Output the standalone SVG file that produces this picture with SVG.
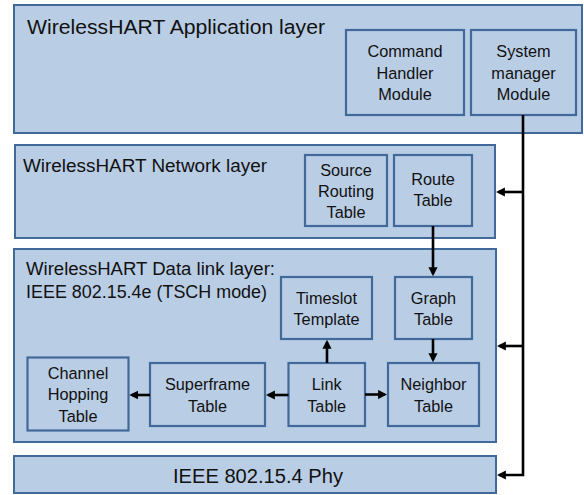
<svg xmlns="http://www.w3.org/2000/svg" width="584" height="495" viewBox="0 0 584 495">
  <style>
    .layer { fill: #b9cde5; stroke: #41699a; stroke-width: 2; }
    .box { fill: #b9cde5; stroke: #41699a; stroke-width: 2.2; }
    text { font-family: "Liberation Sans", Arial, sans-serif; fill: #111; }
    .title { font-size: 18.7px; }
    .lbl { font-size: 16.3px; text-anchor: middle; }
    .wire { fill: none; stroke: #000; stroke-width: 2.6; }
    .arr { marker-end: url(#head); }
  </style>
  <defs>
    <marker id="head" viewBox="0 0 10 10" refX="7" refY="5" markerWidth="3.5" markerHeight="3.5" orient="auto" markerUnits="strokeWidth">
      <path d="M0,0 L10,5 L0,10 z" fill="#000"/>
    </marker>
  </defs>

  <!-- Application layer -->
  <g id="app-layer">
    <rect class="layer" x="14" y="5" width="568" height="128"/>
    <text x="27" y="34" style="font-size:20.5px" textLength="298" lengthAdjust="spacingAndGlyphs">WirelessHART Application layer</text>
  </g>
  <g id="command-handler">
    <rect class="box" x="346" y="30" width="118" height="85"/>
    <text class="lbl" x="405" y="57">Command</text>
    <text class="lbl" x="405" y="78.5">Handler</text>
    <text class="lbl" x="405" y="100">Module</text>
  </g>
  <g id="system-manager">
    <rect class="box" x="471" y="30" width="105" height="85"/>
    <text class="lbl" x="523.5" y="57">System</text>
    <text class="lbl" x="523.5" y="78.5">manager</text>
    <text class="lbl" x="523.5" y="100">Module</text>
  </g>

  <!-- Network layer -->
  <g id="network-layer">
    <rect class="layer" x="15" y="145" width="480" height="93"/>
    <text class="title" x="23" y="172" textLength="244" lengthAdjust="spacingAndGlyphs">WirelessHART Network layer</text>
  </g>
  <g id="source-routing">
    <rect class="box" x="305" y="155" width="82" height="71"/>
    <text class="lbl" x="346" y="175.5">Source</text>
    <text class="lbl" x="346" y="196.5">Routing</text>
    <text class="lbl" x="346" y="217.5">Table</text>
  </g>
  <g id="route-table">
    <rect class="box" x="394" y="155" width="78" height="71"/>
    <text class="lbl" x="433" y="185">Route</text>
    <text class="lbl" x="433" y="206">Table</text>
  </g>

  <!-- Data link layer -->
  <g id="datalink-layer">
    <rect class="layer" x="14" y="249" width="482" height="193"/>
    <text class="title" x="26" y="275" textLength="249" lengthAdjust="spacingAndGlyphs">WirelessHART Data link layer:</text>
    <text class="title" x="26" y="298" textLength="241" lengthAdjust="spacingAndGlyphs">IEEE 802.15.4e (TSCH mode)</text>
  </g>
  <g id="timeslot-template">
    <rect class="box" x="281" y="277" width="91" height="62"/>
    <text class="lbl" x="326.5" y="303.5">Timeslot</text>
    <text class="lbl" x="326.5" y="325">Template</text>
  </g>
  <g id="graph-table">
    <rect class="box" x="395" y="277" width="77" height="62"/>
    <text class="lbl" x="433.5" y="303.5">Graph</text>
    <text class="lbl" x="433.5" y="325">Table</text>
  </g>
  <g id="channel-hopping">
    <rect class="box" x="27.5" y="357.5" width="101" height="73"/>
    <text class="lbl" x="78" y="378.5">Channel</text>
    <text class="lbl" x="78" y="400">Hopping</text>
    <text class="lbl" x="78" y="421.5">Table</text>
  </g>
  <g id="superframe-table">
    <rect class="box" x="150" y="363" width="115" height="63"/>
    <text class="lbl" x="207.5" y="390">Superframe</text>
    <text class="lbl" x="207.5" y="411.5">Table</text>
  </g>
  <g id="link-table">
    <rect class="box" x="288.5" y="363" width="76.5" height="63"/>
    <text class="lbl" x="326.7" y="390">Link</text>
    <text class="lbl" x="326.7" y="411.5">Table</text>
  </g>
  <g id="neighbor-table">
    <rect class="box" x="388" y="363" width="91" height="63"/>
    <text class="lbl" x="433.5" y="390">Neighbor</text>
    <text class="lbl" x="433.5" y="411.5">Table</text>
  </g>

  <!-- Physical layer -->
  <g id="phy-layer">
    <rect class="layer" x="14" y="456" width="482" height="37"/>
    <text x="258" y="483" style="font-size:20px;text-anchor:middle" textLength="170" lengthAdjust="spacingAndGlyphs">IEEE 802.15.4 Phy</text>
  </g>

  <!-- Connectors -->
  <g id="connectors">
    <polyline class="wire arr" points="523,115 523,475 499.5,475"/>
    <line class="wire arr" x1="523" y1="192" x2="498.5" y2="192"/>
    <line class="wire arr" x1="523" y1="346" x2="499.5" y2="346"/>
    <line class="wire arr" x1="433" y1="226" x2="433" y2="273.5"/>
    <line class="wire arr" x1="433" y1="339" x2="433" y2="359.5"/>
    <line class="wire arr" x1="327" y1="363" x2="327" y2="342.5"/>
    <line class="wire arr" x1="365" y1="394.5" x2="384.5" y2="394.5"/>
    <line class="wire arr" x1="288.5" y1="395" x2="268.5" y2="395"/>
    <line class="wire arr" x1="150" y1="395" x2="132" y2="395"/>
  </g>
</svg>
